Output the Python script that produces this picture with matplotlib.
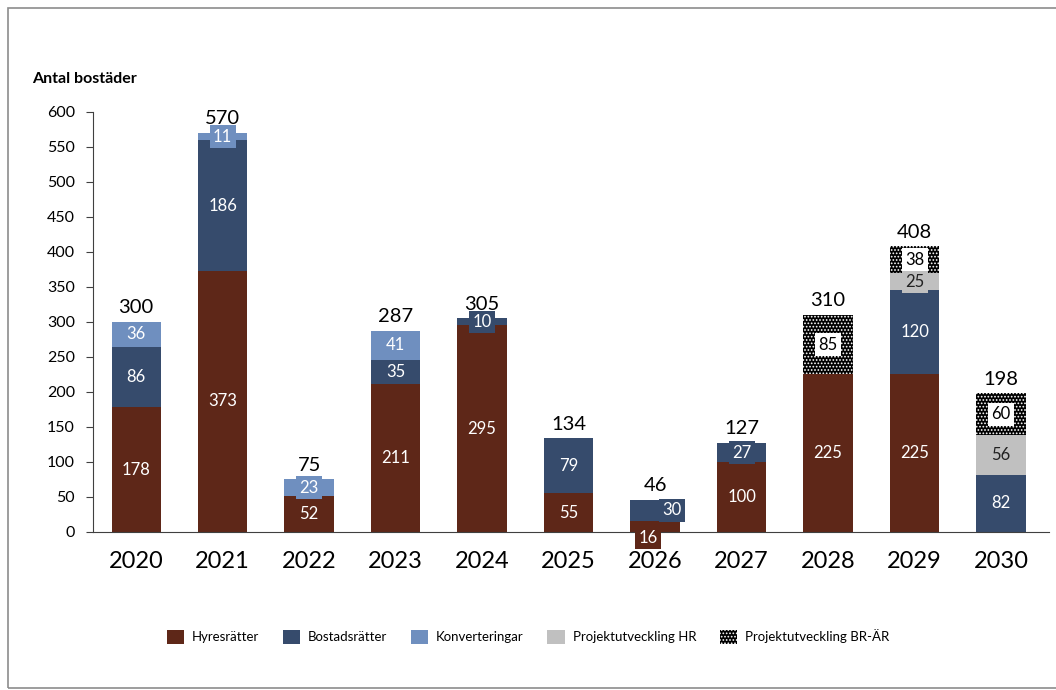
import numpy as np
import matplotlib.pyplot as plt
from matplotlib.patches import Rectangle

plt.rcParams['font.family'] = ['Lato', 'DejaVu Sans']
plt.rcParams['hatch.linewidth'] = 0.8

years = ['2020', '2021', '2022', '2023', '2024', '2025', '2026', '2027', '2028', '2029', '2030']
hyres = [178, 373, 52, 211, 295, 55, 16, 100, 225, 225, 0]
bostads = [86, 186, 0, 35, 10, 79, 30, 27, 0, 120, 82]
konv = [36, 11, 23, 41, 0, 0, 0, 0, 0, 0, 0]
proj_hr = [0, 0, 0, 0, 0, 0, 0, 0, 0, 25, 56]
proj_br = [0, 0, 0, 0, 0, 0, 0, 0, 85, 38, 60]

names = ['Hyresrätter', 'Bostadsrätter', 'Konverteringar', 'Projektutveckling HR', 'Projektutveckling BR-ÄR']
colors = ['#5e2718', '#364b6c', '#6f8fbf', '#c0c0c0', 'black']
series = [hyres, bostads, konv, proj_hr, proj_br]

fig = plt.figure(figsize=(10.56, 6.9), dpi=100)
ax = fig.add_axes([0.088, 0.229, 0.905, 0.609])

x = np.arange(len(years))
bottom = np.zeros(len(years))
for vals, name, col in zip(series, names, colors):
    vals = np.array(vals)
    if col == 'black':
        ax.bar(x, vals, 0.57, bottom=bottom, color='black', edgecolor='white',
               hatch='.....', linewidth=0, label=name)
    else:
        ax.bar(x, vals, 0.57, bottom=bottom, color=col, linewidth=0, label=name)
    for i, v in enumerate(vals):
        if v == 0:
            continue
        xi = x[i]
        yi = bottom[i] + v / 2
        # small segments in 2026 get their labels pushed aside
        if name == 'Hyresrätter' and v < 20:
            xi -= 0.08
            yi = bottom[i] - 8
        if name == 'Bostadsrätter' and years[i] == '2026':
            xi += 0.2
        if col == 'black':
            tc, bc = 'black', 'white'
        elif col == '#c0c0c0':
            tc, bc = '#222222', col
        else:
            tc, bc = 'white', col
        ax.text(xi, yi, str(v), ha='center', va='center', fontsize=12, color=tc,
                bbox=dict(boxstyle='square,pad=0.2', fc=bc, ec='none'))
    bottom += vals

for i, t in enumerate(bottom):
    ax.text(x[i], t + 8, str(int(t)), ha='center', va='bottom', fontsize=14.5, color='black')

ax.set_xlim(-0.5, len(years) - 0.45)
ax.set_ylim(0, 600)
ax.set_yticks(np.arange(0, 601, 50))
ax.set_xticks(x)
ax.set_xticklabels(years, fontsize=17)
ax.tick_params(axis='x', length=0, pad=14)
ax.tick_params(axis='y', labelsize=11.5, length=5, color='#404040', pad=8)
for s in ['top', 'right']:
    ax.spines[s].set_visible(False)
ax.spines['left'].set_color('#404040')
ax.spines['bottom'].set_color('#404040')

fig.text(0.03, 0.88, 'Antal bostäder', fontsize=11.5, fontweight='bold')

fig.legend(loc='center', bbox_to_anchor=(0.5, 0.077), ncol=5, frameon=False, fontsize=9.5,
           handlelength=1.3, handleheight=1.3, columnspacing=1.8, handletextpad=0.6)

fig.patches.append(Rectangle((8 / 1056, 2 / 690), 1.1, 680 / 690, transform=fig.transFigure,
                             fill=False, ec='#8c8c8c', lw=1.2))

fig.savefig('out.png', dpi=100)
